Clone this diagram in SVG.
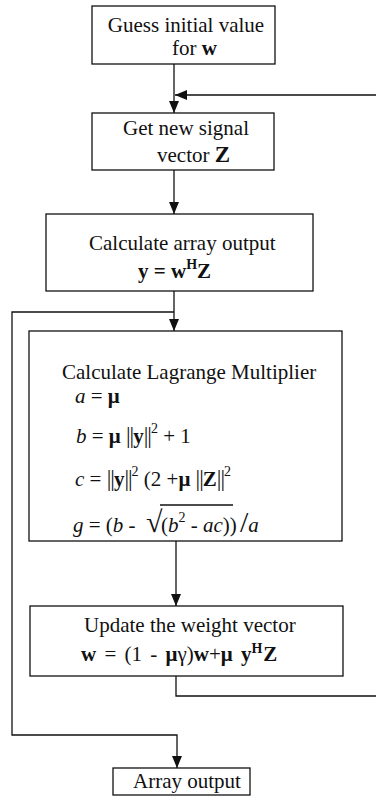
<svg xmlns="http://www.w3.org/2000/svg" width="376" height="800" viewBox="0 0 376 800">
<defs>
<style>
.box{fill:#fff;stroke:#111;stroke-width:1.3}
.ln{fill:none;stroke:#111;stroke-width:1.3}
text{font-family:"Liberation Serif","Times New Roman",serif;font-size:21px;fill:#111}
.b{font-weight:bold}
.i{font-style:italic}
.sup{font-size:14px}
.n{font-size:23px;letter-spacing:-1px}
</style>
<marker id="ah" viewBox="0 0 12 10" refX="12" refY="5" markerWidth="12" markerHeight="10" markerUnits="userSpaceOnUse" orient="auto">
<path d="M0,0 L12,5 L0,10 Z" fill="#111"/>
</marker>
</defs>
<rect width="376" height="800" fill="#fff"/>
<g id="connectors">
<path class="ln" d="M174,64 V113" marker-end="url(#ah)"/>
<path class="ln" d="M176,676 V696 H380 V95 H175" marker-end="url(#ah)"/>
<path class="ln" d="M174,170 V214" marker-end="url(#ah)"/>
<path class="ln" d="M174,291 V331" marker-end="url(#ah)"/>
<path class="ln" d="M174,312 H12 V735 H177 V768" marker-end="url(#ah)"/>
<path class="ln" d="M176,541 V606" marker-end="url(#ah)"/>
</g>
<g id="guess">
<rect class="box" x="92" y="6" width="183" height="58"/>
<text x="186" y="32" text-anchor="middle">Guess initial value</text>
<text x="172" y="55">for <tspan class="b">w</tspan></text>
</g>
<g id="getsignal">
<rect class="box" x="92" y="113" width="182" height="57"/>
<text x="123" y="135">Get new signal</text>
<text x="157" y="162">vector <tspan class="b" font-size="23">Z</tspan></text>
</g>
<g id="arrayoutput">
<rect class="box" x="46" y="214" width="267" height="77"/>
<text x="89" y="250">Calculate array output</text>
<text x="138" y="278" class="b">y = w<tspan class="sup" dy="-9">H</tspan><tspan dy="9">Z</tspan></text>
</g>
<g id="lagrange">
<rect class="box" x="29" y="331" width="313" height="210"/>
<text x="62" y="379">Calculate Lagrange Multiplier</text>
<text x="75" y="403"><tspan class="i">a</tspan> = <tspan class="b">μ</tspan></text>
<text x="76" y="443"><tspan class="i">b</tspan> = <tspan class="b">μ</tspan> <tspan class="n">||</tspan><tspan class="b">y</tspan><tspan class="n">||</tspan><tspan class="sup" dy="-10">2</tspan><tspan dy="10"> + 1</tspan></text>
<text x="75" y="486"><tspan class="i">c</tspan> = <tspan class="n">||</tspan><tspan class="b">y</tspan><tspan class="n">||</tspan><tspan class="sup" dy="-10">2</tspan><tspan dy="10"> (2 +</tspan><tspan class="b">μ</tspan> <tspan class="n">||</tspan><tspan class="b">Z</tspan><tspan class="n">||</tspan><tspan class="sup" dy="-10">2</tspan></text>
<text x="73" y="532"><tspan class="i">g</tspan> = (<tspan class="i">b</tspan> - <tspan x="146" font-size="30">√</tspan><tspan x="161">(</tspan><tspan class="i">b</tspan><tspan class="sup" dy="-10">2</tspan><tspan dy="10"> - </tspan><tspan class="i">ac</tspan>))<tspan x="240" font-size="30">/</tspan><tspan class="i">a</tspan></text>
<line class="ln" x1="160" y1="505" x2="233" y2="505" stroke-width="1"/>
</g>
<g id="update">
<rect class="box" x="30" y="606" width="313" height="70"/>
<text x="84" y="632">Update the weight vector</text>
<text x="81" y="661" word-spacing="3"><tspan class="b">w</tspan> = (1 -  <tspan class="b">μ</tspan>γ)<tspan class="b">w</tspan>+<tspan class="b">μ</tspan> <tspan class="b">y</tspan><tspan class="sup b" dy="-8">H</tspan><tspan class="b" dx="1" dy="8">Z</tspan></text>
</g>
<g id="output">
<rect class="box" x="113" y="768" width="137" height="27"/>
<text x="133" y="788">Array output</text>
</g>
</svg>
